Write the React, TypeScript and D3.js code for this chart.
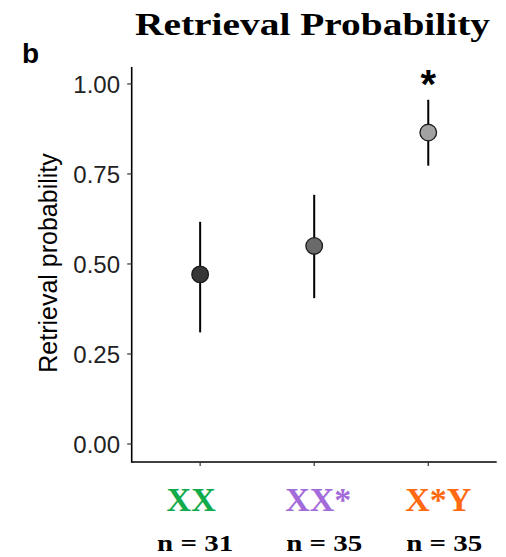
import React from "react";
import * as d3 from "d3";

const categories = ["XX", "XX*", "X*Y"];
const means = [0.471, 0.55, 0.865];
const lowers = [0.31, 0.405, 0.773];
const uppers = [0.617, 0.692, 0.956];
const pointFills = ["#363636", "#6a6a6a", "#a2a2a2"];
const labelColors = ["#12ab4b", "#a36bd9", "#ff6a10"];
const labelOffsets = [-9, 4, 10];
const nLabels = ["n = 31", "n = 35", "n = 35"];
const nOffsets = [-5, 10, 16];
const yTicks = [0, 0.25, 0.5, 0.75, 1.0];
const sigFlags = [false, false, true];

export default function App() {
  const W = 506, H = 557;
  const x = d3.scalePoint<string>().domain(categories).range([131.7, 496.7]).padding(0.6);
  const y = d3.scaleLinear().domain([-0.05, 1.047]).range([462, 67]);
  const fmt = d3.format(".2f");
  const left = 131.7, bottom = 462;

  return (
    <svg width={W} height={H} style={{ position: "absolute", left: 0, top: 0 }}>
      <rect width={W} height={H} fill="#fff" />
      <text x={135} y={35} fontFamily="Liberation Serif" fontWeight="bold" fontSize={31}
        textLength={355} lengthAdjust="spacingAndGlyphs" fill="#000">Retrieval Probability</text>
      <text x={22} y={63} fontFamily="Liberation Sans" fontWeight="bold" fontSize={28} fill="#000">b</text>

      {/* axes */}
      <line x1={left} x2={left} y1={67} y2={bottom + 0.75} stroke="#000" strokeWidth={1.6} />
      <line x1={left} x2={496.7} y1={bottom} y2={bottom} stroke="#000" strokeWidth={1.6} />
      {yTicks.map((t) => (
        <g key={t}>
          <line x1={left - 4.5} x2={left} y1={y(t)} y2={y(t)} stroke="#333" strokeWidth={1.2} />
          <text x={120} y={y(t)} dy="0.36em" textAnchor="end" fontFamily="Liberation Sans"
            fontSize={24} fill="#222">{fmt(t)}</text>
        </g>
      ))}
      {categories.map((c) => (
        <line key={c} x1={x(c)!} x2={x(c)!} y1={bottom} y2={bottom + 4} stroke="#333" strokeWidth={1.2} />
      ))}
      <text transform={`translate(57,263) rotate(-90)`} textAnchor="middle" fontFamily="Liberation Sans"
        fontSize={25} fill="#000">Retrieval probability</text>

      {/* error bars and points */}
      {categories.map((c, i) => (
        <g key={c}>
          <line x1={x(c)!} x2={x(c)!} y1={y(lowers[i])} y2={y(uppers[i])} stroke="#000" strokeWidth={2} />
          <circle cx={x(c)!} cy={y(means[i])} r={8.3} fill={pointFills[i]} stroke="#1a1a1a" strokeWidth={1.3} />
          {sigFlags[i] && (
            <text x={x(c)!} y={y(uppers[i]) - 2} textAnchor="middle" fontFamily="Liberation Sans"
              fontWeight="bold" fontSize={40} fill="#000">*</text>
          )}
        </g>
      ))}

      {/* category labels */}
      {categories.map((c, i) => (
        <g key={c}>
          <text x={x(c)! + labelOffsets[i]} y={511} textAnchor="middle" fontFamily="Liberation Serif"
            fontWeight="bold" fontSize={34} fill={labelColors[i]}>{c}</text>
          <text x={x(c)! + nOffsets[i]} y={551} textAnchor="middle" fontFamily="Liberation Serif"
            fontWeight="bold" fontSize={24} textLength={76} lengthAdjust="spacingAndGlyphs" fill="#000">{nLabels[i]}</text>
        </g>
      ))}
    </svg>
  );
}
